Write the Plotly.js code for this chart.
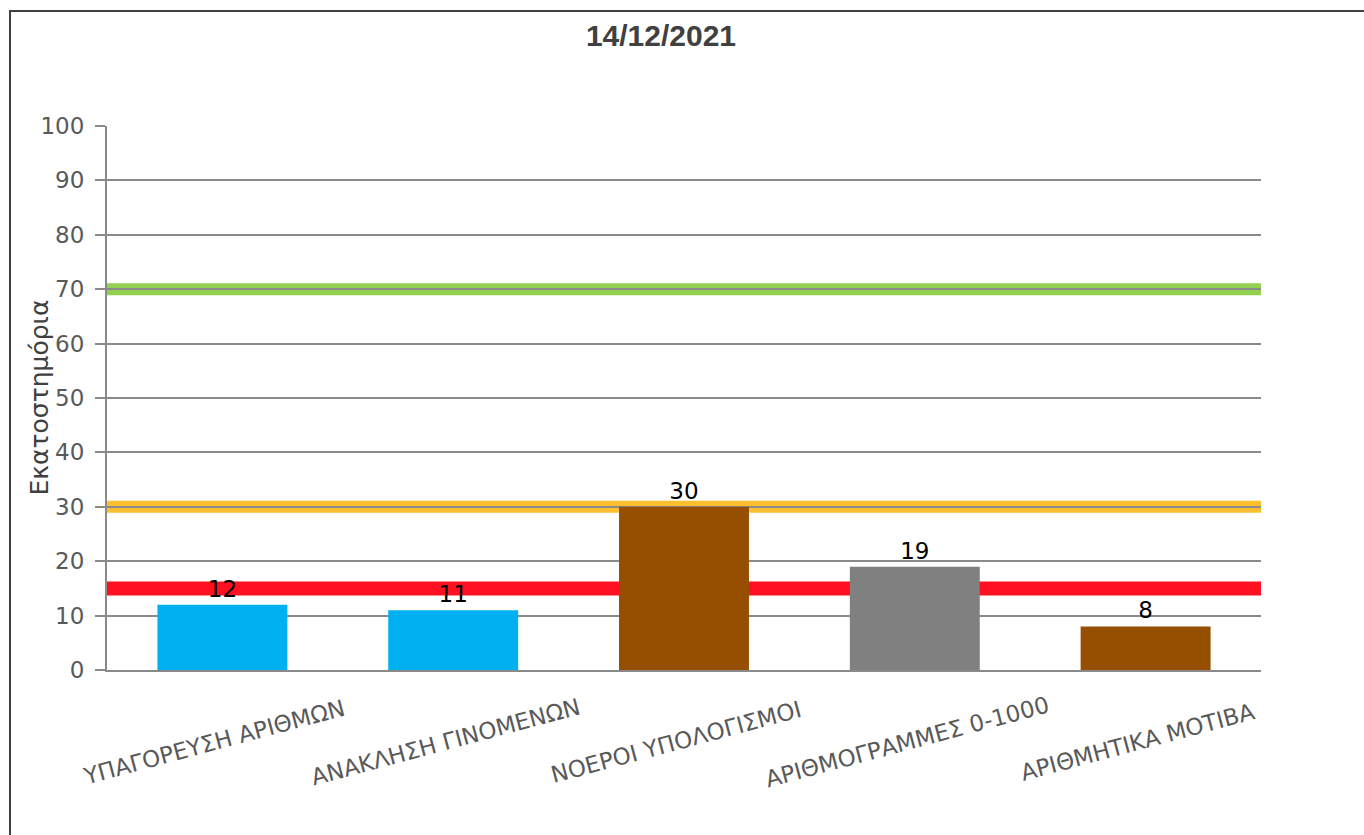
<!DOCTYPE html>
<html>
<head>
<meta charset="utf-8">
<script src="https://cdn.plot.ly/plotly-3.0.1.min.js"></script>
<style>
  html, body { margin: 0; padding: 0; background: #ffffff; }
  #wrap { position: relative; width: 1364px; height: 835px; overflow: hidden; }
  #chart { width: 1364px; height: 835px; }
  #frame { position: absolute; left: 9px; top: 10px; width: 1400px; height: 900px;
           border: 2px solid #404040; pointer-events: none; box-sizing: border-box; }
</style>
</head>
<body>
<div id="wrap">
  <div id="chart"></div>
  <div id="frame"></div>
</div>
<script>
// ---- data ----
const chartTitle = '14/12/2021';
const yAxisTitle = 'Εκατοστημόρια';
const categories = [
  'ΥΠΑΓΟΡΕΥΣΗ ΑΡΙΘΜΩΝ',
  'ΑΝΑΚΛΗΣΗ ΓΙΝΟΜΕΝΩΝ',
  'ΝΟΕΡΟΙ ΥΠΟΛΟΓΙΣΜΟΙ',
  'ΑΡΙΘΜΟΓΡΑΜΜΕΣ 0-1000',
  'ΑΡΙΘΜΗΤΙΚΑ ΜΟΤΙΒΑ'
];
const values = [12, 11, 30, 19, 8];
const barColors = ['#00B0F0', '#00B0F0', '#964F00', '#808080', '#964F00'];
const thresholds = [70, 30, 15];
const thresholdColors = ['#92D050', '#FDBF2D', '#FF1020'];
const yTickVals = [0, 10, 20, 30, 40, 50, 60, 70, 80, 90, 100];

// ---- styles ----
const thresholdWidths = [12, 12, 14];
const gridColor = '#8a8a8a';
const tickFont = { family: 'DejaVu Sans', size: 23, color: '#595959' };

const trace = {
  type: 'bar',
  x: categories,
  y: values,
  marker: { color: barColors, line: { width: 0 } },
  text: values.map(String),
  textposition: 'outside',
  textfont: { family: 'DejaVu Sans', size: 23, color: '#000000' },
  cliponaxis: false,
  hoverinfo: 'x+y'
};

const shapes = thresholds.map((v, i) => ({
  type: 'line', xref: 'paper', yref: 'y',
  x0: 0, x1: 1, y0: v, y1: v,
  layer: 'below',
  line: { color: thresholdColors[i], width: thresholdWidths[i] }
}));

const annotations = categories.map(c => ({
  xref: 'x', yref: 'paper', x: c, y: -0.132,
  xshift: -8,
  text: c, showarrow: false, textangle: -15,
  xanchor: 'center', yanchor: 'middle',
  font: { family: 'DejaVu Sans', size: 23, color: '#595959' }
}));
annotations.push({
  xref: 'paper', yref: 'paper', x: -0.0593, y: 0.5,
  text: yAxisTitle, showarrow: false, textangle: -90,
  xanchor: 'center', yanchor: 'middle',
  font: { family: 'DejaVu Sans', size: 25, color: '#404040' }
});

const layout = {
  width: 1364, height: 835,
  margin: { l: 107, r: 103, t: 126, b: 165 },
  paper_bgcolor: '#ffffff', plot_bgcolor: '#ffffff',
  showlegend: false,
  bargap: 0.437,
  title: {
    text: '<b>' + chartTitle + '</b>',
    xref: 'container', yref: 'container',
    x: 0.4846, y: 0.957, xanchor: 'center', yanchor: 'middle',
    font: { family: 'Liberation Sans', size: 30, color: '#404040' }
  },
  xaxis: {
    type: 'category',
    range: [-0.5, categories.length - 0.5],
    autorange: false,
    showticklabels: false,
    ticks: '',
    showgrid: false,
    showline: true, linecolor: gridColor, linewidth: 2,
    zeroline: false
  },
  yaxis: {
    range: [0, 100],
    autorange: false,
    tickvals: yTickVals,
    ticks: 'outside', ticklen: 10, tickcolor: gridColor, tickwidth: 2,
    ticklabelstandoff: 6,
    tickfont: tickFont,
    showgrid: true, gridcolor: gridColor, gridwidth: 2,
    showline: true, linecolor: gridColor, linewidth: 2,
    zeroline: false,
    fixedrange: true
  },
  shapes: shapes,
  annotations: annotations
};

Plotly.newPlot('chart', [trace], layout, { displayModeBar: false, staticPlot: true });
</script>
</body>
</html>
